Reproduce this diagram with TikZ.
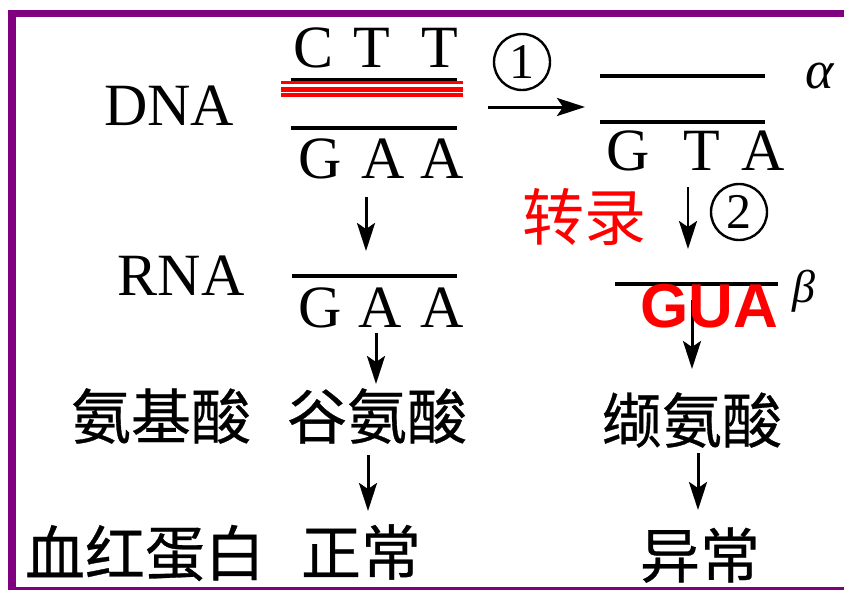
\documentclass[tikz,border=0pt]{standalone}
\usepackage{fontspec}
\setmainfont{Liberation Serif}
\newfontfamily\cjk[FakeBold=0.5]{Noto Sans CJK SC}
\newfontfamily\cjkred{Noto Sans CJK SC}
\newfontfamily\gsans{Liberation Sans}
\usetikzlibrary{arrows.meta}
\definecolor{bord}{RGB}{128,0,128}
\definecolor{hired}{RGB}{255,0,0}
\begin{document}
\begin{tikzpicture}[x=1pt,y=-1pt,
  lat/.style={font=\fontsize{60}{60}\selectfont, inner sep=0, anchor=base},
  han/.style={font=\cjk\fontsize{60}{60}\selectfont, inner sep=0},
  strand/.style={line width=3.4pt},
  redline/.style={hired, line width=3pt},
  arr/.style={line width=3pt, -{Stealth[length=28pt,width=18pt,inset=6pt]}},
  circnum/.style={circle, draw, line width=2.4pt, minimum size=56pt, inner sep=0,
                  font=\fontsize{50}{50}\selectfont},
  greek/.style={inner sep=0, font=\itshape\fontsize{54}{54}\selectfont}
]
\fill[white] (0,0) rectangle (844,590);
\useasboundingbox (0,0) rectangle (844,590);
% purple frame
\fill[bord] (8,9.5) rectangle (844,16.5);
\fill[bord] (8,9.5) rectangle (16,590);
\fill[bord] (8,586.5) rectangle (844,590);
\fill[white] (838,16.5) rectangle (844,586.5);

% ---- left column: DNA ----
\node[lat] (dna) at (169,125) {DNA};
\node[lat] (c1) at (314,67) {C};
\node[lat] (c2) at (372,67) {T};
\node[lat] (c3) at (440,67) {T};
\draw[strand] (291,80) -- (457,80);
\draw[redline] (281,82.5) -- (463,82.5);
\draw[redline, line width=5pt] (281,89) -- (463,89);
\draw[redline, line width=3.5pt] (281,95) -- (463,95);
\draw[strand] (291,128) -- (457,128);
\node[lat] (g1) at (320,178) {G};
\node[lat] (g2) at (383,178) {A};
\node[lat] (g3) at (442,178) {A};

% arrow DNA -> RNA
\coordinate (l1s) at (366,197);
\coordinate (l1e) at (366,251);
\draw[arr] (l1s) -- (l1e);

% ---- RNA ----
\node[lat] (rna) at (181,295) {RNA};
\draw[strand] (292,276) -- (457,276);
\node[lat] (r1) at (320,327) {G};
\node[lat] (r2) at (380,327) {A};
\node[lat] (r3) at (442,327) {A};
\coordinate (l2s) at (376,333);
\coordinate (l2e) at (376,384);
\draw[arr] (l2s) -- (l2e);

% ---- amino acids ----
\node[han] (aa) at (161,416) {氨基酸};
\node[han] (glu) at (377,416) {谷氨酸};
\coordinate (l3s) at (368,455);
\coordinate (l3e) at (368,511);
\draw[arr] (l3s) -- (l3e);
\node[han] (hb) at (145,553) {血红蛋白};
\node[han] (norm) at (361,552) {正常};

% ---- mutation arrow 1 ----
\node[circnum] (n1) at (522,62) {1};
\coordinate (m1s) at (488,107);
\coordinate (m1e) at (585,107);
\draw[arr] (m1s) -- (m1e);

% ---- right column ----
\draw[strand] (600,76) -- (765,76);
\node[greek] (alpha) at (820,76) {α};
\draw[strand] (600,122) -- (765,122);
\node[lat] (s1) at (628,170) {G};
\node[lat] (s2) at (702,170) {T};
\node[lat] (s3) at (763,170) {A};

\node[inner sep=0, text=hired, font=\cjkred\fontsize{62}{62}\selectfont] (zl) at (584,217) {转录};
\coordinate (m2s) at (688,187);
\coordinate (m2e) at (688,249);
\draw[arr, line width=2.6pt] (m2s) -- (m2e);
\node[circnum] (n2) at (739,212) {2};

\draw[strand] (615,284) -- (778,284);
\node[greek, font=\itshape\fontsize{46}{46}\selectfont] (beta) at (804,291) {β};
\coordinate (m3s) at (692,300);
\coordinate (m3e) at (692,369);
\draw[arr] (m3s) -- (m3e);
\node[inner sep=0, anchor=base, text=hired, font=\gsans\bfseries\fontsize{62}{62}\selectfont] (gua) at (709,327) {GUA};

\node[han] (val) at (692,420) {缬氨酸};
\coordinate (m4s) at (698,453);
\coordinate (m4e) at (698,510);
\draw[arr] (m4s) -- (m4e);
\node[han] (abn) at (700,555) {异常};
\end{tikzpicture}
\end{document}
